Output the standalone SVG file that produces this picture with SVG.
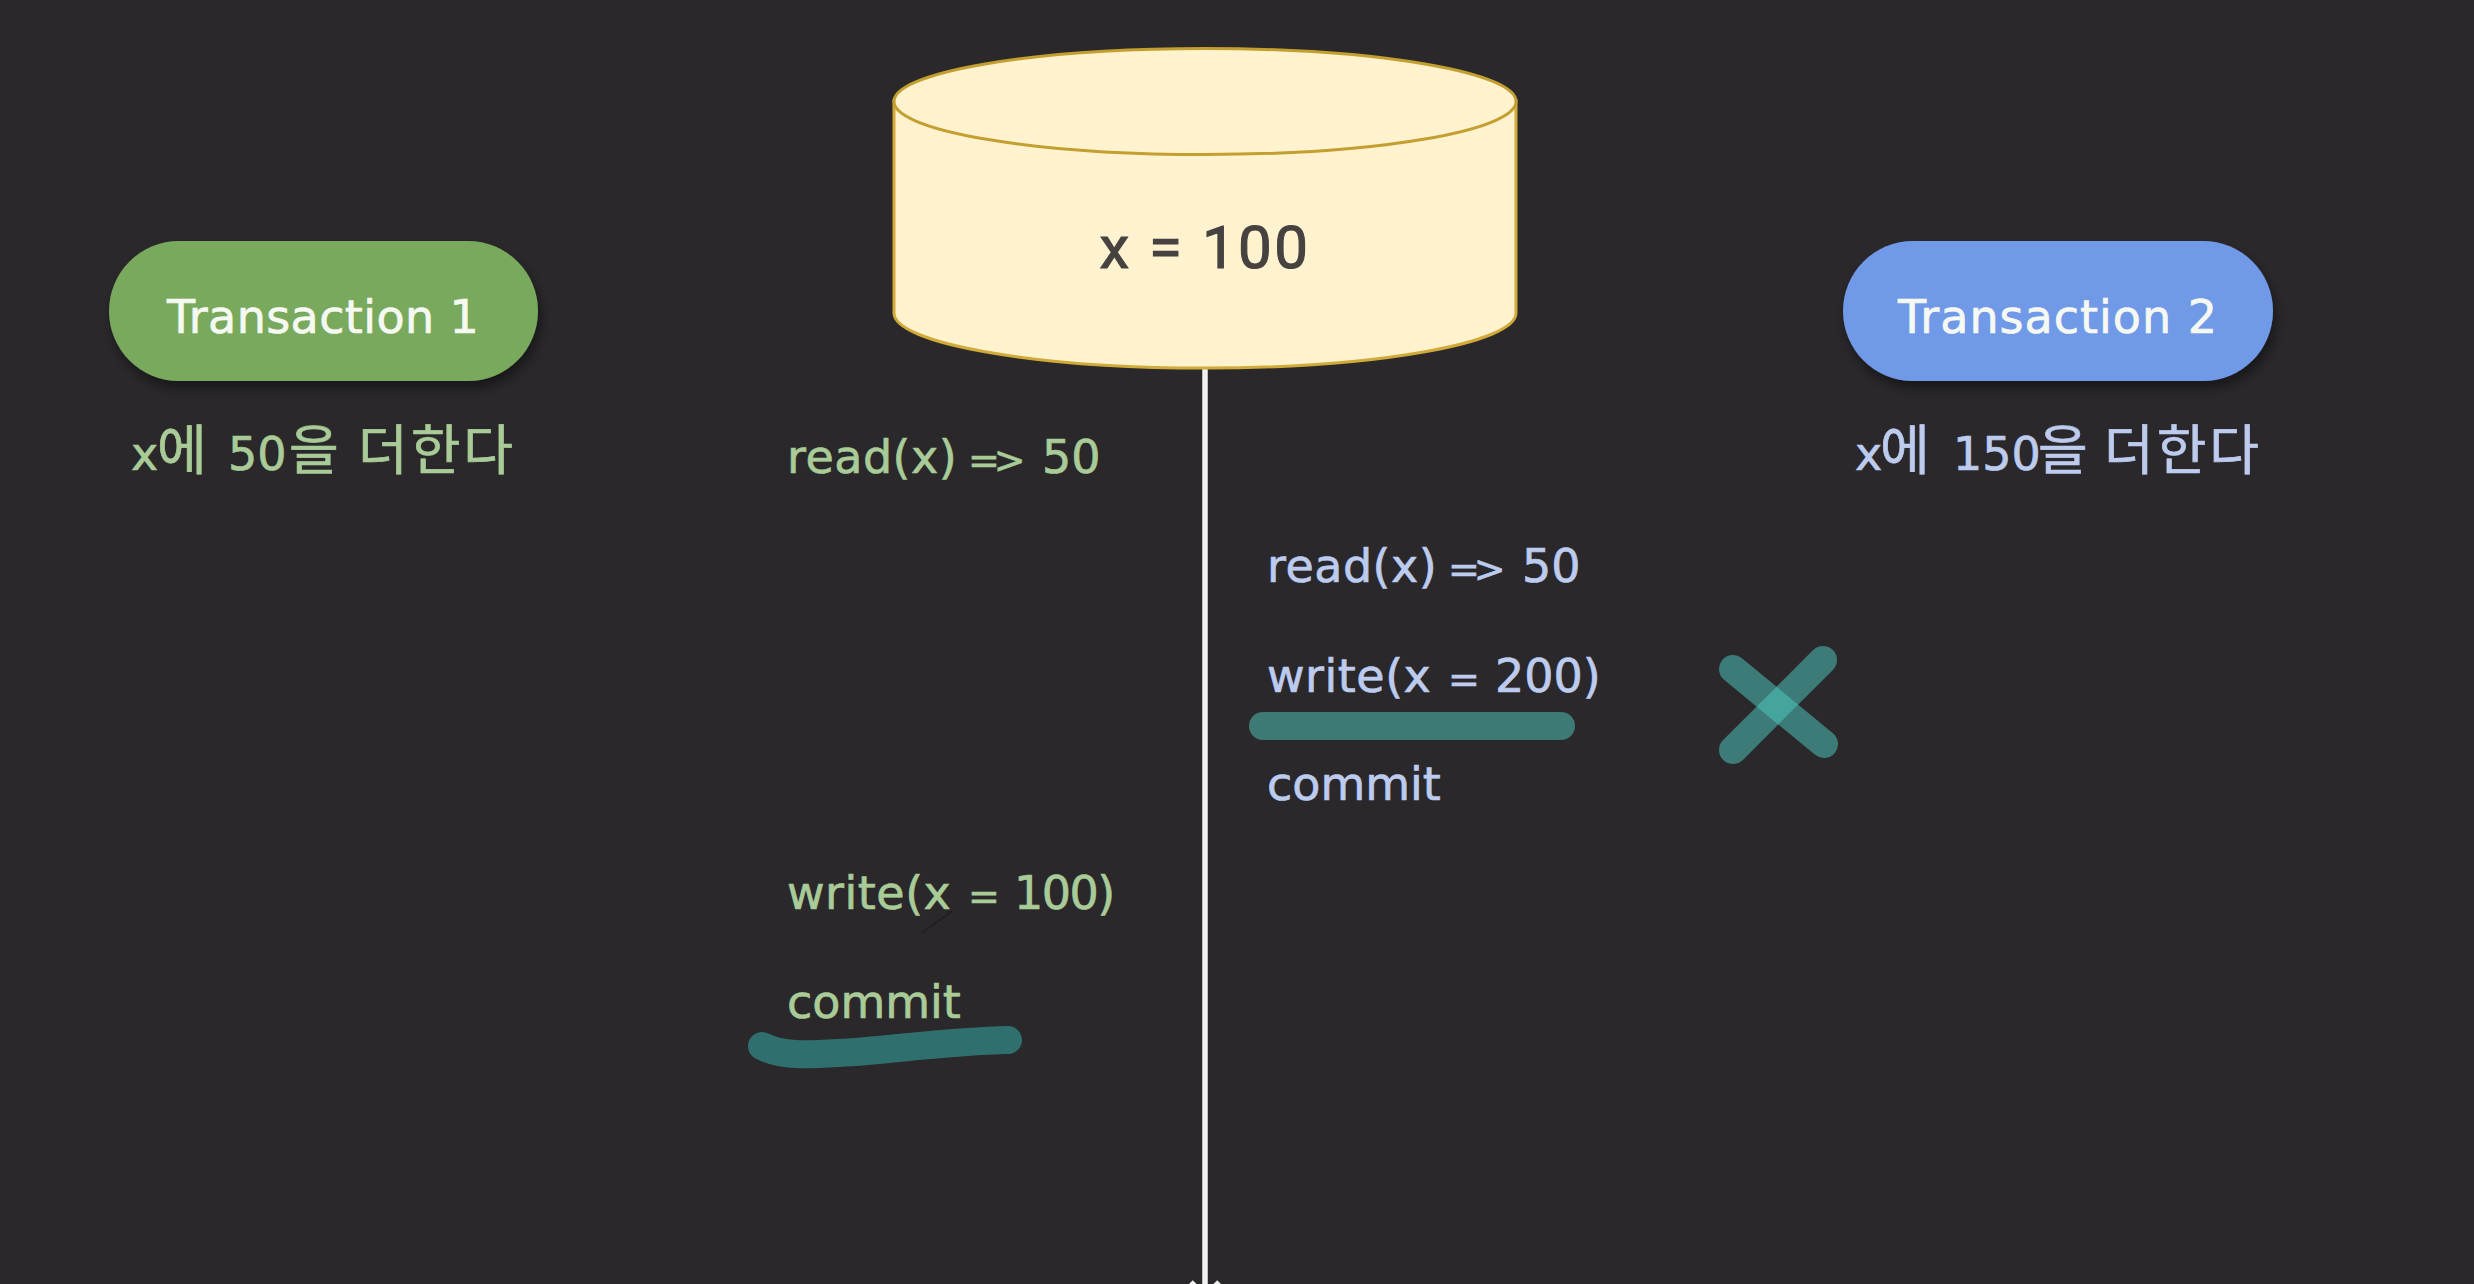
<svg xmlns="http://www.w3.org/2000/svg" width="2474" height="1284" viewBox="0 0 2474 1284">
<style>
.pill,.g,.b{font-family:"DejaVu Sans","Noto Sans CJK KR",sans-serif}
.dbt{font-family:Roboto,sans-serif;font-size:60px;letter-spacing:2.5px;text-anchor:middle;fill:#454240;stroke:#454240;stroke-width:1.1px}
.pill{font-size:46px;fill:#f6f9f2;stroke:#f6f9f2;stroke-width:.7px}
.g{fill:#a9cb97;stroke:#a9cb97;stroke-width:.7px;font-size:46px}
.b{fill:#bccbee;stroke:#bccbee;stroke-width:.7px;font-size:46px}
.k{font-size:54px;letter-spacing:-2px}
.k3{font-size:54px;letter-spacing:3px}
.op{font-size:38px;letter-spacing:-6px}
.w{letter-spacing:.5px}
.mark{fill:none;stroke-linecap:round}
</style>
<defs>
<filter id="sh" x="-10%" y="-20%" width="120%" height="150%"><feDropShadow dx="3" dy="7" stdDeviation="6" flood-color="#000" flood-opacity=".45"/></filter>
<marker id="arr" markerUnits="userSpaceOnUse" markerWidth="40" markerHeight="40" refX="20" refY="20" orient="auto" overflow="visible"><path d="M6 6L20 20L6 34" fill="none" stroke="#f2f2f2" stroke-width="5"/></marker>
</defs>
<rect width="2474" height="1284" fill="#2a282b"/>
<g id="connectors"><line x1="1205" y1="368" x2="1205" y2="1296" stroke="#f2f2f2" stroke-width="5.5" marker-end="url(#arr)"/></g>
<g id="db">
<path d="M894 101V313C894 343 1033 368 1205 368C1377 368 1516 343 1516 313V101Z" fill="#fff2cf" stroke="#d1ab3a" stroke-width="3"/>
<ellipse cx="1205" cy="101.5" rx="311" ry="53" fill="#fff2cf" stroke="#c39f2f" stroke-width="3"/>
<text x="1205" y="268" class="dbt">x = 100</text>
</g>
<g id="transaction1">
<rect x="109" y="241" width="429" height="140" rx="70" fill="#79a95c" filter="url(#sh)"/>
<text x="167" y="333" class="pill" style="letter-spacing:.4px">Transaction 1</text>
</g>
<g id="transaction2">
<rect x="1843" y="241" width="430" height="140" rx="70" fill="#7099e8" filter="url(#sh)"/>
<text x="1898" y="333" class="pill" style="letter-spacing:1px">Transaction 2</text>
</g>
<g id="t1-notes">
<text y="470" class="g"><tspan x="131">x</tspan><tspan class="k" x="157">에</tspan> <tspan x="228">50</tspan><tspan class="k" x="289">을</tspan> <tspan class="k3" x="358">더한다</tspan></text>
<text y="473" class="g"><tspan class="w" x="787">read(x)</tspan> <tspan class="op" x="968">=&gt;</tspan> <tspan x="1042">50</tspan></text>
<text y="909" class="g"><tspan class="w" x="787">write(x</tspan> <tspan class="op" x="968">=</tspan> <tspan x="1014" style="letter-spacing:-1.5px">100)</tspan></text>
<text x="787" y="1018" class="g">commit</text>
</g>
<g id="t2-notes">
<text y="470" class="b"><tspan x="1855">x</tspan><tspan class="k" x="1880">에</tspan> <tspan x="1953">150</tspan><tspan class="k" x="2038">을</tspan> <tspan class="k3" x="2104">더한다</tspan></text>
<text y="582" class="b"><tspan class="w" x="1267">read(x)</tspan> <tspan class="op" x="1448">=&gt;</tspan> <tspan x="1522">50</tspan></text>
<text y="692" class="b"><tspan class="w" x="1267">write(x</tspan> <tspan class="op" x="1448">=</tspan> <tspan x="1495">200)</tspan></text>
<text x="1267" y="800" class="b">commit</text>
</g>
<g id="annotations">
<line x1="922" y1="933" x2="952" y2="911" stroke="#1e1d1f" stroke-width="1.5"/>
<line class="mark" x1="1263" y1="726" x2="1561" y2="726" stroke="#3d7a75" stroke-width="28"/>
<path class="mark" d="M762 1046C785 1058 815 1054 855 1052C905 1048 955 1041 1008 1040" stroke="#2f706e" stroke-width="28"/>
<g stroke="#4ecdc4" stroke-opacity=".5" stroke-width="28" stroke-linecap="round"><line x1="1733" y1="669" x2="1824" y2="744"/><line x1="1823" y1="660" x2="1733" y2="750"/></g>
</g>
</svg>
